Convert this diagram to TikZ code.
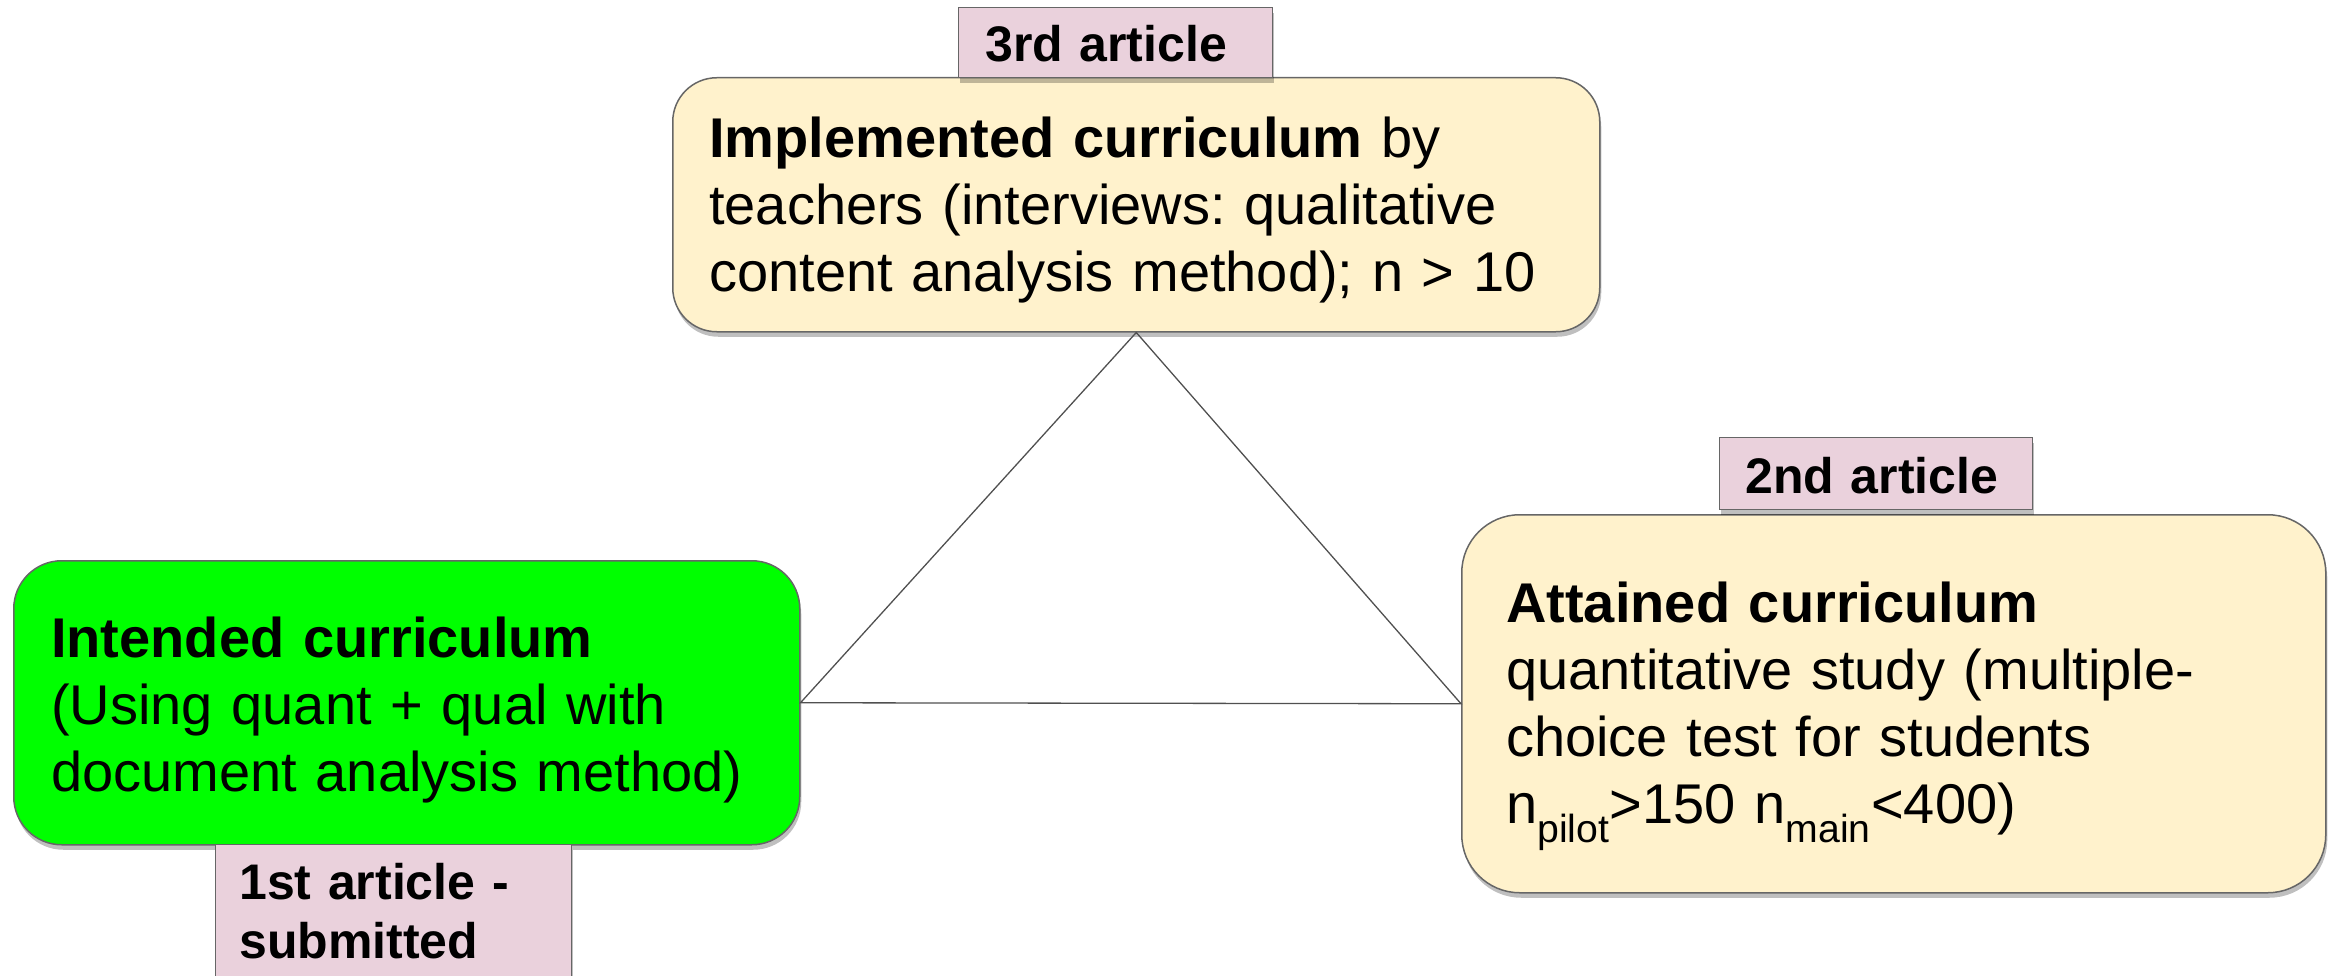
\documentclass[tikz,border=0pt]{standalone}
\usepackage{fontspec}
\setmainfont{Liberation Sans}
\usetikzlibrary{shadows}
\definecolor{cream}{HTML}{FFF2CC}
\definecolor{rose}{HTML}{EAD1DC}
\definecolor{lime}{HTML}{00FF00}
\definecolor{edge}{HTML}{666666}
\definecolor{wire}{HTML}{505050}
\frenchspacing
\begin{document}
\begin{tikzpicture}[x=1pt,y=-1pt,
  softshadow/.style={drop shadow={shadow xshift=1.5pt,shadow yshift=-5pt,opacity=0.25,fill=black}},
  card/.style={draw=edge,line width=1.5pt,rounded corners=#1,inner sep=0pt,
    anchor=north west,softshadow},
  tag/.style={draw=edge,line width=1.4pt,fill=rose,inner sep=0pt,
    anchor=north west,softshadow},
  body/.style={anchor=base west,inner sep=0pt,align=left,text width=#1,
    font=\fontsize{56}{67}\selectfont},
  tagtext/.style={anchor=base west,inner sep=0pt,align=left,text width=#1,
    font=\bfseries\fontsize{50}{59.5}\selectfont}]
\useasboundingbox (0,0) rectangle (2328,976);

% curriculum boxes
\node[card=44pt,fill=cream,minimum width=927pt,minimum height=254pt] (impl) at (672,77) {};
\node[card=48pt,fill=lime,minimum width=786pt,minimum height=284pt] (intended) at (13,560) {};
\node[card=58pt,fill=cream,minimum width=864pt,minimum height=378pt] (attained) at (1461,514) {};

% triangle linking the three curricula
\draw[wire,line width=1.3pt] (impl.south) -- (intended.east) -- (attained.west) -- cycle;

% box texts
\node[body=880pt] (implText) at (709,158)
  {\textbf{Implemented curriculum} by\\teachers (interviews: qualitative\\content analysis method); n > 10};
\node[body=760pt] (intendedText) at (51,657)
  {\textbf{Intended curriculum}\\(Using quant + qual with\\document analysis method)};
\node[body=800pt] (attainedText) at (1506,622)
  {\textbf{Attained curriculum}\\quantitative study (multiple-\\choice test for students\\n\textsubscript{pilot}>150 n\textsubscript{main}<400)};

% article tags
\node[tag,minimum width=314pt,minimum height=70pt] (tagThree) at (958,7) {};
\node[tagtext=300pt] (tagThreeText) at (985,62) {3rd article};
\node[tag,minimum width=313pt,minimum height=72pt] (tagTwo) at (1719,437) {};
\node[tagtext=300pt] (tagTwoText) at (1745,493) {2nd article};
\node[tag,minimum width=356pt,minimum height=180pt] (tagOne) at (215,844) {};
\node[tagtext=330pt] (tagOneText) at (239,899) {1st article -\\submitted};
\end{tikzpicture}
\end{document}
